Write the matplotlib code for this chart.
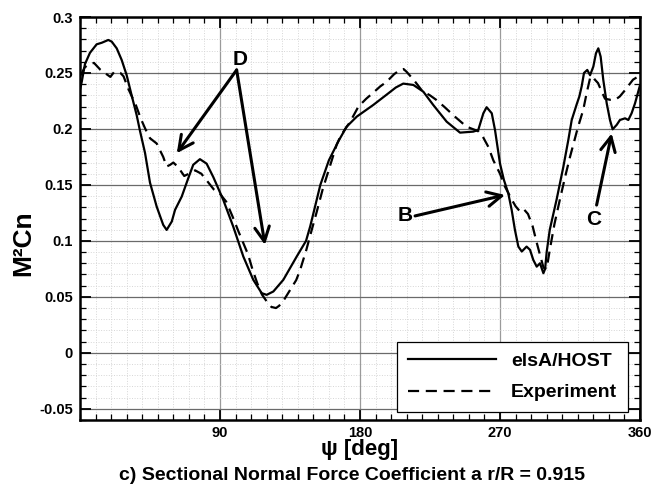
import numpy as np
import matplotlib
matplotlib.use('Agg')
import matplotlib.pyplot as plt
from matplotlib.ticker import MultipleLocator

# elsA/HOST (solid)
psi_sim = [0, 1.1, 3.2, 6.4, 10.7, 14.0, 18.2, 20.4, 23.6, 26.8, 30.0, 33.2, 36.4, 38.6, 41.8,
           45.0, 49.3, 53.5, 55.7, 59.0, 61.1, 65.4, 69.6, 72.8, 77.1, 81.4, 85.7, 92.1, 98.5, 105.0,
           111.4, 116.8, 120.0, 124.3, 130.7, 139.3, 145.3, 148.0, 154.5, 160.0, 166.5, 171.4, 177.9,
           188.5, 198.2, 203.0, 207.8, 214.3, 220.7, 227.1, 235.7, 244.3, 252.8, 256.0, 259.3, 261.4,
           264.7, 266.8, 270.0, 272.5, 275.3, 277.5, 279.6, 281.8, 284.0, 287.1, 289.3, 291.4, 293.6,
           295.7, 297.9, 299.0, 300.0, 302.0, 306.4, 310.7, 313.9, 316.1, 319.3, 321.0, 322.5, 324.0,
           326.1, 327.9, 330.0, 331.7, 333.2, 334.7, 336.4, 338.6, 340.7, 342.4, 345.0, 347.1, 350.4,
           352.5, 354.6, 356.8, 360.0]
cn_sim = [0.235, 0.242, 0.258, 0.268, 0.2756, 0.277, 0.2795, 0.278, 0.272, 0.2616, 0.248, 0.230,
          0.2125, 0.198, 0.1786, 0.152, 0.1306, 0.1143, 0.1098, 0.1173, 0.1277, 0.1396, 0.156, 0.168,
          0.173, 0.169, 0.157, 0.1366, 0.1128, 0.086, 0.0652, 0.0533, 0.0518, 0.0548, 0.0652, 0.086,
          0.100, 0.113, 0.150, 0.172, 0.190, 0.202, 0.211, 0.2214, 0.2318, 0.237, 0.2405, 0.2393,
          0.2333, 0.2214, 0.2065, 0.1967, 0.1976, 0.199, 0.214, 0.2194, 0.214, 0.199, 0.169, 0.1545,
          0.1426, 0.1277, 0.1098, 0.0949, 0.0905, 0.0949, 0.092, 0.083, 0.077, 0.080, 0.0711, 0.075,
          0.090, 0.110, 0.137, 0.166, 0.190, 0.208, 0.222, 0.229, 0.238, 0.250, 0.2527, 0.248, 0.2557,
          0.2676, 0.272, 0.2646, 0.2438, 0.2229, 0.208, 0.1997, 0.2036, 0.208, 0.2095, 0.208, 0.214,
          0.2229, 0.239]

# Experiment (dashed)
psi_exp = [0.5, 3, 6, 9, 13, 17, 19.5, 22, 26, 28, 31, 36, 39, 42, 45, 49.3, 53.5, 55.7, 58, 60,
           63, 67, 70, 74, 78, 82, 86, 90, 94, 98, 102, 105, 108, 111, 114, 117, 120, 123, 126, 128,
           131, 135, 139, 141.5, 145.5, 149, 152, 156, 160.5, 165, 167, 170, 173.5, 179, 184, 189,
           193, 197, 202, 206, 208, 210, 215, 220, 225, 229, 234, 241, 248.5, 256, 259, 262.5, 265.7,
           270, 273, 277.5, 280, 283, 285.5, 288, 291, 293.5, 296, 298, 300, 302, 305, 308.5, 312,
           315, 320, 323.5, 325.7, 328, 329.5, 331, 333, 335.5, 337.5, 341, 344, 347, 350, 355.5, 359]
cn_exp = [0.248, 0.255, 0.258, 0.259, 0.253, 0.249, 0.2465, 0.251, 0.250, 0.247, 0.236, 0.221,
          0.2095, 0.200, 0.1917, 0.187, 0.175, 0.1664, 0.168, 0.170, 0.166, 0.158, 0.160, 0.163,
          0.160, 0.153, 0.146, 0.142, 0.135, 0.122, 0.108, 0.098, 0.088, 0.074, 0.062, 0.052, 0.046,
          0.041, 0.040, 0.042, 0.047, 0.056, 0.065, 0.074, 0.092, 0.110, 0.125, 0.146, 0.166, 0.186,
          0.192, 0.199, 0.206, 0.220, 0.227, 0.233, 0.238, 0.242, 0.249, 0.253, 0.2535, 0.251, 0.243,
          0.234, 0.230, 0.226, 0.220, 0.211, 0.202, 0.198, 0.193, 0.184, 0.172, 0.160, 0.149, 0.137,
          0.131, 0.126, 0.128, 0.124, 0.113, 0.099, 0.086, 0.076, 0.075, 0.092, 0.115, 0.137, 0.158,
          0.175, 0.201, 0.217, 0.232, 0.246, 0.247, 0.244, 0.241, 0.233, 0.227, 0.226, 0.226, 0.229,
          0.234, 0.244, 0.247]

x_ticks = [90, 180, 270, 360]
y_ticks = [-0.05, 0, 0.05, 0.1, 0.15, 0.2, 0.25, 0.3]
y_labels = ['-0.05', '0', '0.05', '0.1', '0.15', '0.2', '0.25', '0.3']

plt.rcParams['font.family'] = ['Liberation Sans', 'DejaVu Sans']
plt.rcParams['font.weight'] = 'bold'

fig = plt.figure(figsize=(6.55, 4.91), dpi=100)
ax = fig.add_axes([80 / 655, 1 - 420 / 491, 560 / 655, 403 / 491])

ax.plot(psi_sim, cn_sim, color='k', lw=1.6, label='elsA/HOST')
ax.plot(psi_exp, cn_exp, color='k', lw=1.6, dashes=(5, 3), label='Experiment')

ax.set_xlim(0, 360)
ax.set_ylim(-0.06, 0.3)
ax.set_xticks(x_ticks)
ax.set_yticks(y_ticks)
ax.set_yticklabels(y_labels)
ax.xaxis.set_minor_locator(MultipleLocator(10))
ax.yaxis.set_minor_locator(MultipleLocator(0.01))
ax.tick_params(which='both', direction='in', top=True, right=True, labelsize=10.5)
ax.tick_params(which='major', length=8, width=1.3)
ax.tick_params(which='minor', length=4, width=0.9)
ax.tick_params(axis='x', pad=4)
ax.tick_params(axis='y', pad=5)
for s in ax.spines.values():
    s.set_linewidth(1.8)

ax.set_axisbelow(True)
ax.xaxis.grid(True, which='major', color='#9a9a9a', lw=0.9)
ax.yaxis.grid(True, which='major', color='#6a6a6a', lw=0.9)
ax.grid(True, which='minor', color='#d6d6d6', ls=':', lw=0.7)

leg = ax.legend(loc='lower right', bbox_to_anchor=(548 / 560, 8 / 403), borderaxespad=0,
                fontsize=14, handlelength=4.5, handletextpad=0.8, borderpad=0.55,
                labelspacing=0.7, fancybox=False, edgecolor='k', framealpha=1)
leg.get_frame().set_linewidth(0.9)

arrow = dict(arrowstyle='->,head_length=0.7,head_width=0.35', lw=2.2, color='k',
             shrinkA=0, shrinkB=0, mutation_scale=15)
ax.annotate('', xy=(62.2, 0.1783), xytext=(100.7, 0.2527), arrowprops=arrow)
ax.annotate('', xy=(118.9, 0.0964), xytext=(100.7, 0.2527), arrowprops=arrow)
ax.text(102.9, 0.2616, 'D', fontsize=15, ha='center', va='center', fontweight='bold')
ax.annotate('', xy=(273.2, 0.141), xytext=(215.4, 0.1223), arrowprops=arrow)
ax.text(208.9, 0.1228, 'B', fontsize=15, ha='center', va='center', fontweight='bold')
ax.annotate('', xy=(341.8, 0.196), xytext=(332.1, 0.132), arrowprops=arrow)
ax.text(330.1, 0.1188, 'C', fontsize=15, ha='center', va='center', fontweight='bold')

fig.text(23 / 655, 1 - 243 / 491, 'M²Cn', rotation=90, fontsize=19, ha='center', va='center')
fig.text(360 / 655, 1 - 449 / 491, 'ψ [deg]', fontsize=16, ha='center', va='center')
fig.text(352 / 655, 1 - 475 / 491, 'c) Sectional Normal Force Coefficient a r/R = 0.915',
         fontsize=14, ha='center', va='center')

fig.savefig('out.png', dpi=100)
